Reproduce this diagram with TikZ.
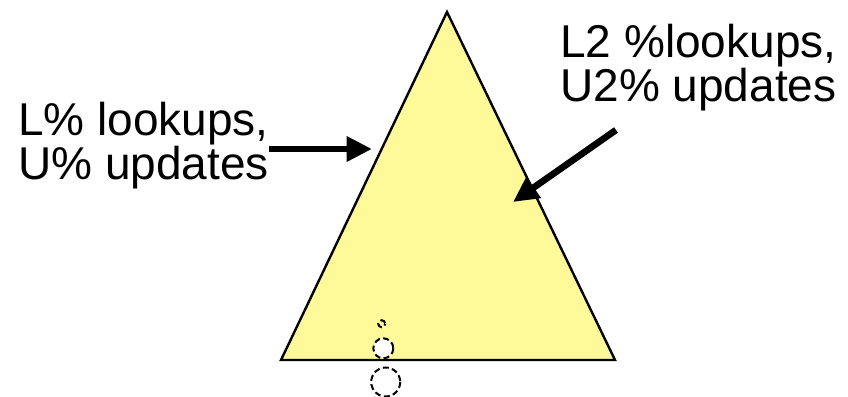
\documentclass[tikz,border=0pt]{standalone}
\usepackage{fontspec}
\setmainfont{Liberation Sans}
\usetikzlibrary{arrows.meta}
\begin{document}
\begin{tikzpicture}[x=0.75pt, y=-0.75pt, every node/.style={font=\fontsize{34.5}{31}\selectfont,inner sep=0pt,align=left},
  bigarrow/.style={line width=5pt,-{Triangle[length=19pt,width=18pt]}},
  ring/.style={draw,line width=1.5pt,dash pattern=on 4.5pt off 2.5pt}]
\useasboundingbox (0,0) rectangle (848,396);
\coordinate (apex) at (447,12);
\coordinate (bl) at (281,360);
\coordinate (br) at (615,360);
\draw[line width=1.8pt,fill=yellow!40] (apex) -- (br) -- (bl) -- cycle;
\node[anchor=north west] (lefttxt) at (18,102) {L\% lookups,\\U\% updates};
\node[anchor=north west] (righttxt) at (560,24) {L2 \%lookups,\\U2\% updates};
\coordinate (ltip) at (372,149);
\coordinate (rstart) at (616,130);
\coordinate (rtip) at (513,202);
\draw[bigarrow] (lefttxt.east |- ltip) -- (ltip);
\draw[bigarrow] (rstart) -- (rtip);
% small dashed circles at the base
\draw[ring,dash phase=3pt] (381.7,323.7) circle[radius=3.5];
\draw[ring,fill=white] (383.3,348.3) circle[radius=10];
\draw[ring] (385.7,382) circle[radius=14.5];
\end{tikzpicture}
\end{document}
